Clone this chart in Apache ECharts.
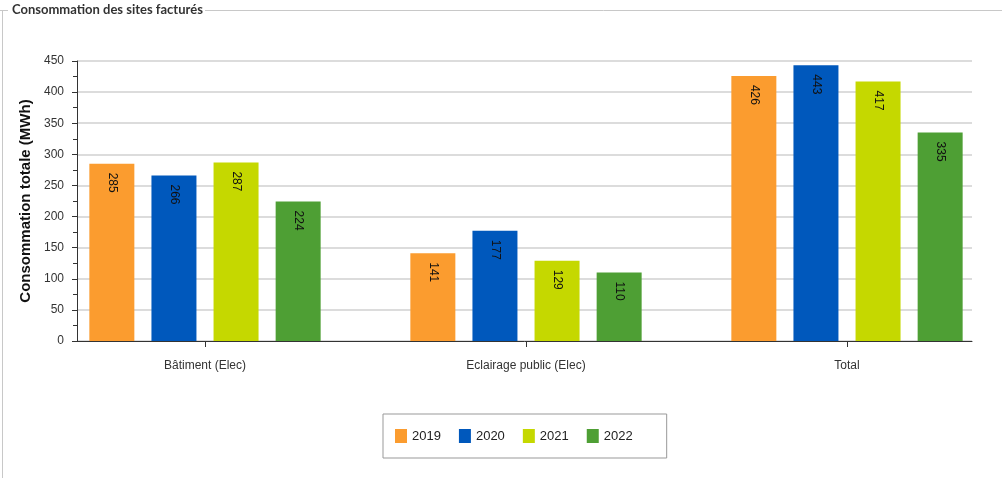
<!DOCTYPE html>
<html>
<head>
<meta charset="utf-8">
<script src="https://cdn.jsdelivr.net/npm/echarts@6/dist/echarts.min.js"></script>
<style>
html,body{margin:0;padding:0;background:#fff;}
#chart{width:1002px;height:478px;}
</style>
</head>
<body>
<div id="chart"></div>
<script>
var categories = ['Bâtiment (Elec)', 'Eclairage public (Elec)', 'Total'];
var years = ['2019', '2020', '2021', '2022'];
var values2019 = [285, 141, 426];
var values2020 = [266, 177, 443];
var values2021 = [287, 129, 417];
var values2022 = [224, 110, 335];
var yTicks = [0, 50, 100, 150, 200, 250, 300, 350, 400, 450];
var colors = ['#FB9C2F', '#0058BC', '#C5D800', '#4E9F34'];

var seriesValues = [values2019, values2020, values2021, values2022];
var font = 'Arial, "Liberation Sans", sans-serif';

var chart = echarts.init(document.getElementById('chart'), null, {renderer: 'canvas'});

var series = years.map(function (y, i) {
  return {
    name: y,
    type: 'bar',
    xAxisIndex: 1,
    yAxisIndex: 1,
    data: seriesValues[i],
    barWidth: 45,
    barGap: '38%',
    itemStyle: {color: colors[i]},
    label: {
      show: true,
      position: 'insideTop',
      rotate: -90,
      align: 'left',
      verticalAlign: 'middle',
      distance: 9,
      color: '#111',
      fontSize: 12,
      fontFamily: font
    }
  };
});

var option = {
  backgroundColor: '#fff',
  animation: false,
  color: colors,
  graphic: [
    {type: 'line', shape: {x1: 0, y1: 10.5, x2: 8, y2: 10.5}, style: {stroke: '#c8c8c8', lineWidth: 1}},
    {type: 'line', shape: {x1: 205, y1: 10.5, x2: 1002, y2: 10.5}, style: {stroke: '#c8c8c8', lineWidth: 1}},
    {type: 'line', shape: {x1: 2.5, y1: 10.5, x2: 2.5, y2: 478}, style: {stroke: '#c8c8c8', lineWidth: 1}},
    {type: 'text', left: 12, top: 3, style: {text: 'Consommation des sites facturés', font: 'bold 13px Lato, "Liberation Sans", sans-serif', fill: '#333'}}
  ],
  legend: {
    data: years,
    left: 383,
    top: 414,
    orient: 'horizontal',
    icon: 'rect',
    itemWidth: 12,
    itemHeight: 14,
    itemGap: 18,
    padding: [15, 34, 15, 12],
    borderColor: '#999',
    borderWidth: 1,
    textStyle: {fontSize: 13, color: '#222', fontFamily: font}
  },
  grid: [
    {left: 77, right: 30, top: 61, bottom: 137, containLabel: false, outerBoundsMode: 'none'},
    {left: 44.5, width: 963, top: 61, bottom: 137, containLabel: false, outerBoundsMode: 'none'}
  ],
  xAxis: [
    {
      type: 'category', gridIndex: 0, data: categories,
      axisLine: {show: true, lineStyle: {color: '#333', width: 1}},
      axisTick: {show: false},
      axisLabel: {show: false},
      splitLine: {show: false}
    },
    {
      type: 'category', gridIndex: 1, data: categories,
      axisLine: {show: false},
      axisTick: {show: true, alignWithLabel: true, length: 6, lineStyle: {color: '#333'}},
      axisLabel: {show: true, margin: 19, fontSize: 12, color: '#333', fontFamily: font},
      splitLine: {show: false}
    }
  ],
  yAxis: [
    {
      type: 'value', gridIndex: 0, min: 0, max: 450, interval: 50,
      name: 'Consommation totale (MWh)',
      nameLocation: 'middle',
      nameGap: 40,
      nameTextStyle: {fontSize: 15, fontWeight: 'bold', color: '#111', fontFamily: font},
      axisLine: {show: true, lineStyle: {color: '#333', width: 1}},
      axisTick: {show: true, length: 5, lineStyle: {color: '#333'}},
      minorTick: {show: true, splitNumber: 2, length: 4, lineStyle: {color: '#333'}},
      axisLabel: {
        margin: 13, fontSize: 12, color: '#333', fontFamily: font,
        formatter: function (v) { return yTicks.indexOf(v) >= 0 ? String(v) : ''; }
      },
      splitLine: {show: true, lineStyle: {color: '#d0d0d0', width: 1.5}}
    },
    {
      type: 'value', gridIndex: 1, min: 0, max: 450, interval: 50,
      show: false,
      splitLine: {show: false}
    }
  ],
  series: series
};

chart.setOption(option);
</script>
</body>
</html>
